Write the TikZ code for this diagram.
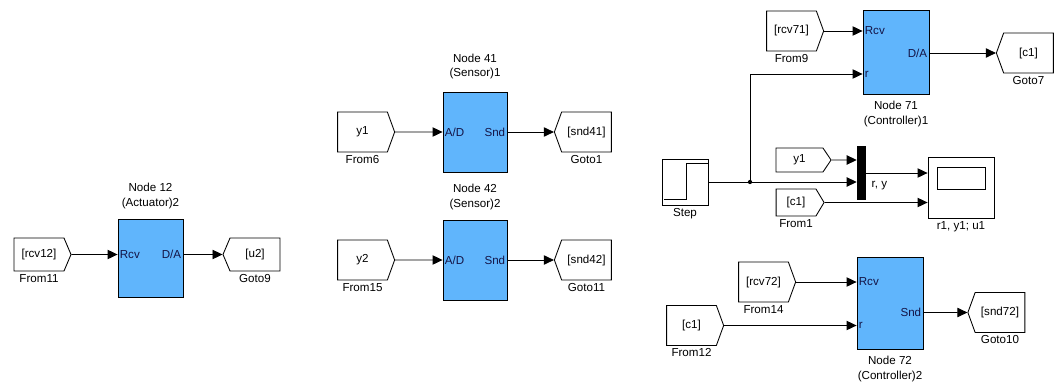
\documentclass[tikz,border=0pt]{standalone}
\usepackage{fontspec}
\setmainfont{Liberation Sans}
\usepackage{xcolor}
\usepackage{tikz}
\usetikzlibrary{positioning, arrows.meta, shapes.symbols}

\definecolor{blockblue}{RGB}{96,181,252}
\definecolor{portink}{RGB}{20,20,70}
\newcommand{\pxu}{0.75pt}

\begin{document}
\begin{tikzpicture}[
        x=0.75pt, y=-0.75pt,
        every node/.style={font=\fontsize{8.7}{11}\selectfont},
        node distance=1pt,
        sig/.style={-{Triangle[length=7.5pt,width=7pt]}, line width=0.65pt},
        blk/.style={draw, fill=blockblue, inner sep=0, line width=0.65pt,
          minimum width=65*\pxu},
        frm/.style={draw, signal, signal to=east, inner sep=0, line width=0.65pt,
          minimum width=57*\pxu, minimum height=40*\pxu, signal pointer angle=140},
        gto/.style={draw, signal, signal to=west, inner sep=0, line width=0.65pt,
          minimum width=57*\pxu, minimum height=40*\pxu, signal pointer angle=140},
        port/.style={inner sep=1.5pt, text=portink},
        lbl/.style={inner sep=1pt, align=center},
      ]
      \useasboundingbox (0,0) rectangle (1059,389);

      % Node 12 (actuator)
      \node[frm, minimum height=33*\pxu, signal pointer angle=134] (f11) at (39,254.5) {[rcv12]};
      \node[blk, minimum height=78*\pxu] (n12) at (150.5,258) {};
      \node[gto, minimum height=33*\pxu, signal pointer angle=134] (g9) at (255,254.5) {[u2]};
      \node[port, anchor=west] (n12rcv) at (n12.west |- f11) {Rcv};
      \node[port, anchor=east] (n12da) at (n12.east |- g9) {D/A};
      \node[lbl, below=of f11] (f11lbl) {From11};
      \node[lbl, below=of g9] (g9lbl) {Goto9};
      \node[lbl, above=6pt of n12] (n12name) {Node 12\\(Actuator)2};
      \draw[sig] (f11) -- (n12rcv);
      \draw[sig] (n12da) -- (g9);

      % Node 41 (sensor)
      \node[frm] (f6) at (362.5,132) {y1};
      \node[blk, minimum width=64*\pxu, minimum height=80*\pxu] (n41) at (475,132) {};
      \node[gto] (g1) at (586.5,132) {[snd41]};
      \node[port, anchor=west] (n41ad) at (n41.west |- f6) {A/D};
      \node[port, anchor=east] (n41snd) at (n41.east |- g1) {Snd};
      \node[lbl, below=of f6] (f6lbl) {From6};
      \node[lbl, below=of g1] (g1lbl) {Goto1};
      \node[lbl, above=8pt of n41] (n41name) {Node 41\\(Sensor)1};
      \draw[sig] (f6) -- (n41ad);
      \draw[sig] (n41snd) -- (g1);

      % Node 42 (sensor)
      \node[frm] (f15) at (362.5,260) {y2};
      \node[blk, minimum width=64*\pxu, minimum height=80*\pxu] (n42) at (475,260) {};
      \node[gto] (g11) at (586.5,260) {[snd42]};
      \node[port, anchor=west] (n42ad) at (n42.west |- f15) {A/D};
      \node[port, anchor=east] (n42snd) at (n42.east |- g11) {Snd};
      \node[lbl, below=of f15] (f15lbl) {From15};
      \node[lbl, below=of g11] (g11lbl) {Goto11};
      \node[lbl, above=6pt of n42] (n42name) {Node 42\\(Sensor)2};
      \draw[sig] (f15) -- (n42ad);
      \draw[sig] (n42snd) -- (g11);

      % Node 71 (controller)
      \node[frm] (f9) at (791.5,31) {[rcv71]};
      \node[blk, minimum width=66*\pxu, minimum height=84*\pxu] (n71) at (896,52) {};
      \node[gto] (g7) at (1028.5,53) {[c1]};
      \coordinate (rbend) at (750,74);
      \node[port, anchor=west] (n71rcv) at (n71.west |- f9) {Rcv};
      \node[port, anchor=west] (n71r) at (n71.west |- rbend) {r};
      \node[port, anchor=east] (n71da) at (n71.east |- g7) {D/A};
      \node[lbl, below=of f9] (f9lbl) {From9};
      \node[lbl, below=of g7] (g7lbl) {Goto7};
      \node[lbl, below=4pt of n71] (n71name) {Node 71\\(Controller)1};
      \draw[sig] (f9) -- (n71rcv);
      \draw[sig] (n71da) -- (g7);

      % reference, mux and scope
      \node[draw, line width=0.65pt, minimum width=46*\pxu, minimum height=46*\pxu,
        inner sep=0] (step) at (685,182) {};
      \draw[line width=0.65pt] ([shift={(-21,17)}]step.center) -- ++(22,0)
        |- ([shift={(23,-19)}]step.center);
      \node[lbl, below=of step] (steplbl) {Step};
      \coordinate (br) at (750,182);
      \node[frm, minimum width=55*\pxu, minimum height=24*\pxu, signal pointer angle=112] (fy1) at (799.5,160) {y1};
      \node[frm, minimum width=48*\pxu, minimum height=27*\pxu, signal pointer angle=118] (f1) at (796,202.5) {[c1]};
      \node[lbl, below=of f1] (f1lbl) {From1};
      \node[fill=black, minimum width=9*\pxu, minimum height=54*\pxu, inner sep=0] (mux) at (861.5,173) {};
      \node[draw, line width=0.65pt, minimum width=66*\pxu, minimum height=61*\pxu,
        inner sep=0] (scope) at (961,187.5) {};
      \node[draw, line width=0.65pt, minimum width=48*\pxu, minimum height=22*\pxu,
        inner sep=0] (screen) at ([shift={(0,-9.5)}]scope.center) {};
      \node[lbl, below=of scope] (scopelbl) {r1, y1; u1};
      \node[lbl, anchor=west] (rylbl) at (870,186) {r, y};
      \draw[sig] (step) -- (step -| mux.west);
      \draw[sig] (br) |- (n71r);
      \fill (br) circle (1.6pt);
      \draw[sig] (fy1) -- (fy1 -| mux.west);
      \draw[sig] (mux) -- (mux -| scope.west);
      \draw[sig] (f1) -- (f1 -| scope.west);

      % Node 72 (controller)
      \node[frm] (f14) at (763.5,282) {[rcv72]};
      \node[frm] (f12) at (691.5,325.5) {[c1]};
      \node[blk, minimum width=66*\pxu, minimum height=92*\pxu] (n72) at (890,303) {};
      \node[gto] (g10) at (1000,312.5) {[snd72]};
      \node[port, anchor=west] (n72rcv) at (n72.west |- f14) {Rcv};
      \node[port, anchor=west] (n72r) at (n72.west |- f12) {r};
      \node[port, anchor=east] (n72snd) at (n72.east |- g10) {Snd};
      \node[lbl, below=of f14] (f14lbl) {From14};
      \node[lbl, below=of f12] (f12lbl) {From12};
      \node[lbl, below=of g10] (g10lbl) {Goto10};
      \node[lbl, below=4pt of n72] (n72name) {Node 72\\(Controller)2};
      \draw[sig] (f14) -- (n72rcv);
      \draw[sig] (f12) -- (n72r);
      \draw[sig] (n72snd) -- (g10);

    \end{tikzpicture}
\end{document}
